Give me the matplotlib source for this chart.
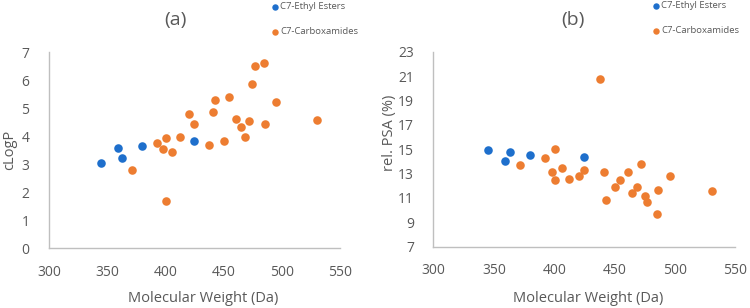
import matplotlib
matplotlib.use("Agg")
import matplotlib.pyplot as plt

plt.rcParams['font.family'] = ['Open Sans', 'DejaVu Sans']

# Data
ester_mw = [345, 359, 363, 379.5, 424.2]
ester_clogp = [3.02, 3.56, 3.20, 3.64, 3.81]
ester_psa = [14.93, 14.03, 14.74, 14.50, 14.36]

amide_mw = [371.5, 392.5, 398.3, 400.3, 400.3, 406.0, 412.3, 420.2, 424.6, 437.5,
            440.8, 442.6, 450.3, 454.8, 460.7, 464.7, 468.6, 471.6, 474.8, 476.9,
            485.0, 485.5, 495.4, 530.2]
amide_clogp = [2.77, 3.74, 3.52, 1.69, 3.94, 3.44, 3.96, 4.77, 4.42, 3.69,
               4.87, 5.27, 3.83, 5.39, 4.62, 4.32, 3.96, 4.54, 5.87, 6.49,
               6.61, 4.42, 5.21, 4.58]
amide_psa = [13.73, 14.28, 13.10, 12.45, 15.01, 13.48, 12.53, 12.77, 13.32, 20.73,
             13.13, 10.83, 11.90, 12.47, 13.13, 11.38, 11.87, 13.78, 11.19, 10.69,
             9.66, 11.63, 12.80, 11.54]

x_ticks = [300, 350, 400, 450, 500, 550]
a_yticks = [0, 1, 2, 3, 4, 5, 6, 7]
b_yticks = [7, 9, 11, 13, 15, 17, 19, 21, 23]

BLUE = '#1E6FCC'
ORANGE = '#ED7D31'
GRAY = '#595959'
SPINE = '#BFBFBF'

fig = plt.figure(figsize=(7.5, 3.08), dpi=100)
W, H = 750, 308

def px_axes(l, t, r, b):
    return fig.add_axes([l / W, 1 - b / H, (r - l) / W, (b - t) / H])

axA = px_axes(49, 52, 340, 248)
axB = px_axes(433.5, 51.7, 735.5, 246.7)

panels = [
    (axA, ester_clogp, amide_clogp, (0, 7), a_yticks, 'cLogP', '(a)', 175, 203, 10, 150, (270, 8)),
    (axB, ester_psa, amide_psa, (7, 23), b_yticks, 'rel. PSA (%)', '(b)', 573, 588, 390, 133, (651, 7)),
]

for ax, ey, ay, ylim, yt, ylab, title, tx, xlx, ylx, yly, leg in panels:
    ax.scatter(ester_mw, ey, s=38, color=BLUE, zorder=3, label='C7-Ethyl Esters', linewidths=0)
    ax.scatter(amide_mw, ay, s=38, color=ORANGE, zorder=3, label='C7-Carboxamides', linewidths=0)
    ax.set_xlim(300, 550)
    ax.set_ylim(*ylim)
    ax.set_xticks(x_ticks)
    ax.set_yticks(yt)
    for s in ['top', 'right']:
        ax.spines[s].set_visible(False)
    for s in ['left', 'bottom']:
        ax.spines[s].set_color(SPINE)
        ax.spines[s].set_linewidth(1.0)
    ax.tick_params(length=0, colors=GRAY, labelsize=10)
    ax.tick_params(axis='y', pad=14)
    ax.tick_params(axis='x', pad=12)
    fig.text(tx / W, 1 - 20 / H, title, ha='center', va='center', fontsize=14, color=GRAY)
    fig.text(xlx / W, 1 - 299 / H, 'Molecular Weight (Da)', ha='center', va='center', fontsize=10.5, color=GRAY)
    fig.text(ylx / W, 1 - yly / H, ylab, ha='center', va='center', fontsize=10.5, color=GRAY, rotation=90)
    ax.legend(loc='upper left', bbox_to_anchor=(leg[0] / W, 1 - (leg[1] - 6) / H),
              bbox_transform=fig.transFigure, frameon=False, fontsize=6.8,
              labelcolor=GRAY, handletextpad=0.1, labelspacing=1.7,
              markerscale=0.75, borderpad=0, handlelength=1.0, borderaxespad=0)

fig.savefig('out.png', dpi=100)
